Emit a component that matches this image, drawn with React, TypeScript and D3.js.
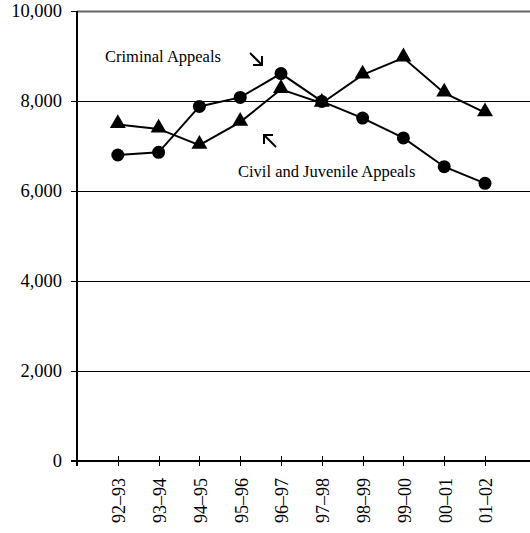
import React from "react";
import * as d3 from "d3";

const categories = ["92–93", "93–94", "94–95", "95–96", "96–97", "97–98", "98–99", "99–00", "00–01", "01–02"];
const criminalAppeals = [6800, 6860, 7880, 8080, 8610, 7990, 7620, 7180, 6540, 6170];
const civilJuvenileAppeals = [7480, 7380, 7020, 7530, 8260, 7950, 8580, 8960, 8180, 7740];
const yTicks = [0, 2000, 4000, 6000, 8000, 10000];

const W = 530, H = 533;
const left = 77, top = 11, bottom = 461;
const step = 40.8;

export default function App() {
  const x = d3.scaleLinear().domain([-1, 0]).range([left, left + step]);
  const y = d3.scaleLinear().domain([0, 10000]).range([bottom, top]);
  const fmt = d3.format(",");
  const line = d3.line<number>().x((_, i) => x(i)).y(d => y(d));
  const tri = d3.symbol().type(d3.symbolTriangle).size(110)();
  const font = "'Liberation Serif', 'Times New Roman', serif";

  return (
    <svg width={W} height={H} style={{ position: "absolute", left: 0, top: 0, background: "#fff" }}>
      {yTicks.filter(t => t > 0).map(t => (
        <line key={"g" + t} x1={left} x2={W} y1={y(t) + 0.5} y2={y(t) + 0.5} stroke={t === 10000 ? "#666" : "#000"} strokeWidth={t === 10000 ? 2 : 1} />
      ))}
      {yTicks.map(t => (
        <g key={"t" + t}>
          <line x1={left - 6} x2={left} y1={y(t) + 0.5} y2={y(t) + 0.5} stroke="#000" strokeWidth={1} />
          <text x={62} y={y(t)} dy="0.33em" textAnchor="end" fontFamily={font} fontSize={18.5} fill="#000">{fmt(t)}</text>
        </g>
      ))}
      <line x1={left} x2={left} y1={top} y2={bottom + 5} stroke="#000" strokeWidth={2} />
      <line x1={left - 6} x2={W} y1={bottom} y2={bottom} stroke="#000" strokeWidth={2} />
      {categories.map((c, i) => (
        <g key={c}>
          <line x1={Math.round(x(i)) + 0.5} x2={Math.round(x(i)) + 0.5} y1={bottom - 5} y2={bottom + 5} stroke="#000" strokeWidth={1} />
          <text transform={`translate(${x(i) + 1},${bottom + 17}) rotate(-90)`} dy="0.35em" textAnchor="end" fontFamily={font} fontSize={18} fill="#000">{c}</text>
        </g>
      ))}
      <path d={line(civilJuvenileAppeals) || ""} fill="none" stroke="#000" strokeWidth={2} />
      <path d={line(criminalAppeals) || ""} fill="none" stroke="#000" strokeWidth={2} />
      {civilJuvenileAppeals.map((v, i) => (
        <path key={"tr" + i} d={tri || ""} transform={`translate(${x(i)},${y(v) - 1})`} fill="#000" />
      ))}
      {criminalAppeals.map((v, i) => (
        <circle key={"c" + i} cx={x(i)} cy={y(v)} r={6.5} fill="#000" />
      ))}
      <text x={105} y={62} fontFamily={font} fontSize={16.5} fill="#000">Criminal Appeals</text>
      <g transform="translate(250,53)" stroke="#000" strokeWidth={2} fill="none">
        <path d="M0,0 L12,12" />
        <path d="M3,12 L12,12 L12,3" />
      </g>
      <text x={238} y={177} fontFamily={font} fontSize={16.5} fill="#000">Civil and Juvenile Appeals</text>
      <g transform="translate(264,135)" stroke="#000" strokeWidth={2} fill="none">
        <path d="M0,0 L12,12" />
        <path d="M9,0 L0,0 L0,9" />
      </g>
    </svg>
  );
}
